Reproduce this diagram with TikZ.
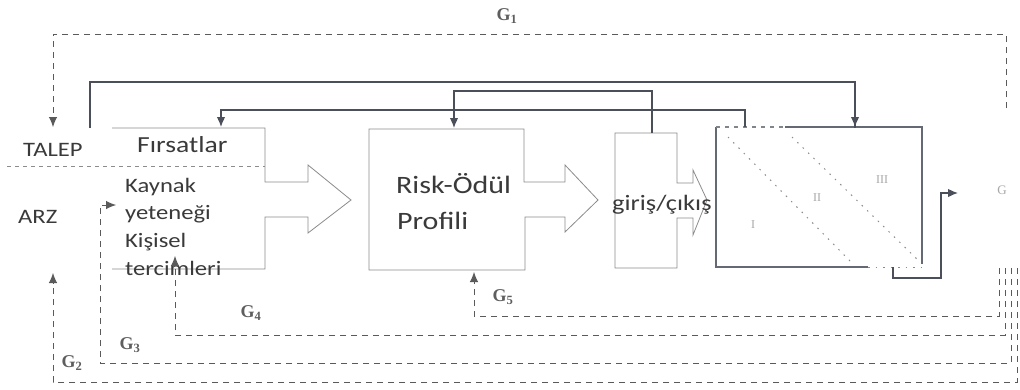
\documentclass[tikz,border=0pt]{standalone}
\usepackage{fontspec}
\setmainfont{Carlito}
\newfontfamily\lab[FakeStretch=1.2]{Carlito}
\newfontfamily\gfont{Liberation Serif}
\usetikzlibrary{arrows.meta}
\definecolor{linec}{HTML}{4A4F5A}
\definecolor{dashc}{HTML}{5A5A5A}
\definecolor{boxc}{HTML}{8C8C8C}
\definecolor{textc}{HTML}{3A3A3A}
\definecolor{glabc}{HTML}{5E5E5E}
\definecolor{faintc}{HTML}{A8A8A8}
\begin{document}
\begin{tikzpicture}[x=1pt,y=-1pt,
  fb/.style={draw=linec,line width=1.2pt},
  dfb/.style={draw=dashc,line width=0.9pt,dash pattern=on 6pt off 5pt},
  boxline/.style={draw=boxc,line width=0.8pt},
  rbox/.style={draw=linec!85,line width=1.2pt},
  dotline/.style={draw=boxc,line width=1pt,dash pattern=on 1.5pt off 6pt},
  tip/.style={-{Latex[length=10pt,width=8.5pt]}},
  txt/.style={inner sep=0pt,anchor=base west,text=textc},
  glab/.style={inner sep=0pt,text=glabc,font=\gfont\bfseries\fontsize{18}{18}\selectfont},
  roman/.style={inner sep=0pt,text=faintc,font=\gfont\fontsize{12}{12}\selectfont},
  junction/.style={circle,fill=linec,inner sep=0pt,minimum size=3pt}]
\useasboundingbox (0,0) rectangle (1020,389);
\fill[white] (0,0) rectangle (1020,389);

% ---- left arrow-shaped box (Firsatlar / Kaynak)
\draw[boxline] (112,128) -- (265,128) -- (265,182) -- (308,182) -- (308,165) -- (351,200)
  -- (308,233) -- (308,217) -- (265,217) -- (265,269) -- (112,269);
% TALEP / ARZ separator
\draw[draw=boxc,line width=0.9pt,dash pattern=on 4pt off 4pt] (7,166) -- (265,166);

% ---- Risk-Odul box
\draw[boxline] (369,270) -- (369,129) -- (524,129) -- (524,182) -- (565,182) -- (565,165)
  -- (598,200) -- (565,232) -- (565,217) -- (525,217) -- (525,270) -- cycle;

% ---- giris/cikis box
\draw[boxline] (615,133) -- (677,133) -- (677,183) -- (693,183) -- (693,170) -- (707,200)
  -- (693,235) -- (693,218) -- (677,218) -- (677,268) -- (615,268) -- cycle;

% ---- right box
\coordinate (rbTL) at (716,127);
\coordinate (rbTM) at (785,127);
\coordinate (rbTR) at (922,127);
\coordinate (rbBR) at (922,264);
\coordinate (rbBL) at (716,267);
\coordinate (rbBM) at (868,267);
\draw[rbox] (rbTM) -- (rbTR) -- (rbBR);
\draw[rbox] (rbTL) -- (rbBL) -- (rbBM);
\draw[draw=linec!70,line width=1.1pt,dash pattern=on 4pt off 5pt] (rbTL) -- (rbTM);
\draw[dotline] (rbBM) -- (922,267);
\draw[dotline] (728,137) -- (852,263);
\draw[dotline] (792,137) -- (920,262);
\node[roman] (z1) at (753,225) {I};
\node[roman] (z2) at (817,198) {II};
\node[roman] (z3) at (882,180) {III};
\node[inner sep=0pt,text=faintc,font=\gfont\fontsize{13}{13}\selectfont] (gout) at (1002,190) {G};

% output connector
\coordinate (outA) at (893,267);
\coordinate (outB) at (941,278);
\coordinate (outT) at (958,193);
\draw[fb,tip] (outA) |- (outB) |- (outT);

% ---- texts
\node[txt,font=\lab\fontsize{20.5}{20.5}\selectfont] (talep) at (23,156) {TALEP};
\node[txt,font=\lab\fontsize{20.5}{20.5}\selectfont] (arz) at (18,223) {ARZ};
\node[txt,font=\lab\fontsize{23}{23}\selectfont] (firsat) at (137,152) {Fırsatlar};
\node[txt,font=\lab\fontsize{20.5}{20.5}\selectfont] (k1) at (125,192) {Kaynak};
\node[txt,font=\lab\fontsize{20.5}{20.5}\selectfont] (k2) at (125,219) {yeteneği};
\node[txt,font=\lab\fontsize{20.5}{20.5}\selectfont] (k3) at (125,247) {Kişisel};
\node[txt,font=\lab\fontsize{20.5}{20.5}\selectfont] (k4) at (125,275) {tercimleri};
\node[txt,font=\lab\fontsize{25}{25}\selectfont] (risk) at (396,193) {Risk-Ödül};
\node[txt,font=\lab\fontsize{25}{25}\selectfont] (prof) at (397,229) {Profili};
\node[txt,font=\lab\fontsize{22}{22}\selectfont] (giris) at (612,210) {giriş/çıkış};

% ---- G labels
\node[glab] (g1) at (507,16) {G\textsubscript{1}};
\node[glab] (g2) at (72,363) {G\textsubscript{2}};
\node[glab] (g3) at (130,345) {G\textsubscript{3}};
\node[glab] (g4) at (251,313) {G\textsubscript{4}};
\node[glab] (g5) at (503,297) {G\textsubscript{5}};

% ---- G1 feedback (top dashed)
\coordinate (g1s) at (1006,108);
\coordinate (g1c) at (1006,34);
\coordinate (g1e) at (53,127);
\draw[dfb,tip] (g1s) -- (g1c) -| (g1e);

% ---- solid top line to right box
\coordinate (s1s) at (90,128);
\coordinate (s1e) at (855,127);
\draw[fb] (s1s) -- (90,82) -| ([yshift=-0.5pt]s1e);
\draw[fb,tip] (855,100) -- (s1e);

% ---- second line: right box top to Firsatlar
\coordinate (s2s) at (745,127);
\coordinate (s2e) at (221,127);
\draw[fb,tip] (s2s) -- (745,110) -| (s2e);

% ---- loop: giris/cikis to Risk-Odul
\coordinate (s3s) at (652,133);
\coordinate (s3e) at (454,128);
\draw[fb,tip] (s3s) -- (652,91) -| (s3e);
\node[junction] (j1) at (454,110) {};
\node[junction] (j2) at (652,110) {};

% ---- bottom dashed feedbacks
\coordinate (g5s) at (999,268);
\coordinate (g5e) at (474,272);
\draw[dfb,tip] (g5s) |- (474,316) -- (g5e);

\coordinate (g4s) at (1005,268);
\coordinate (g4e) at (175,256);
\draw[dfb,tip] (g4s) |- (175,335) -- (g4e);

\coordinate (g3s) at (1011,268);
\coordinate (g3e) at (116,205);
\draw[dfb,tip] (g3s) |- (100,363) |- (g3e);

\coordinate (g2s) at (1017,268);
\coordinate (g2e) at (53,273);
\draw[dfb,tip] (g2s) |- (53,382) -- (g2e);
\end{tikzpicture}
\end{document}
